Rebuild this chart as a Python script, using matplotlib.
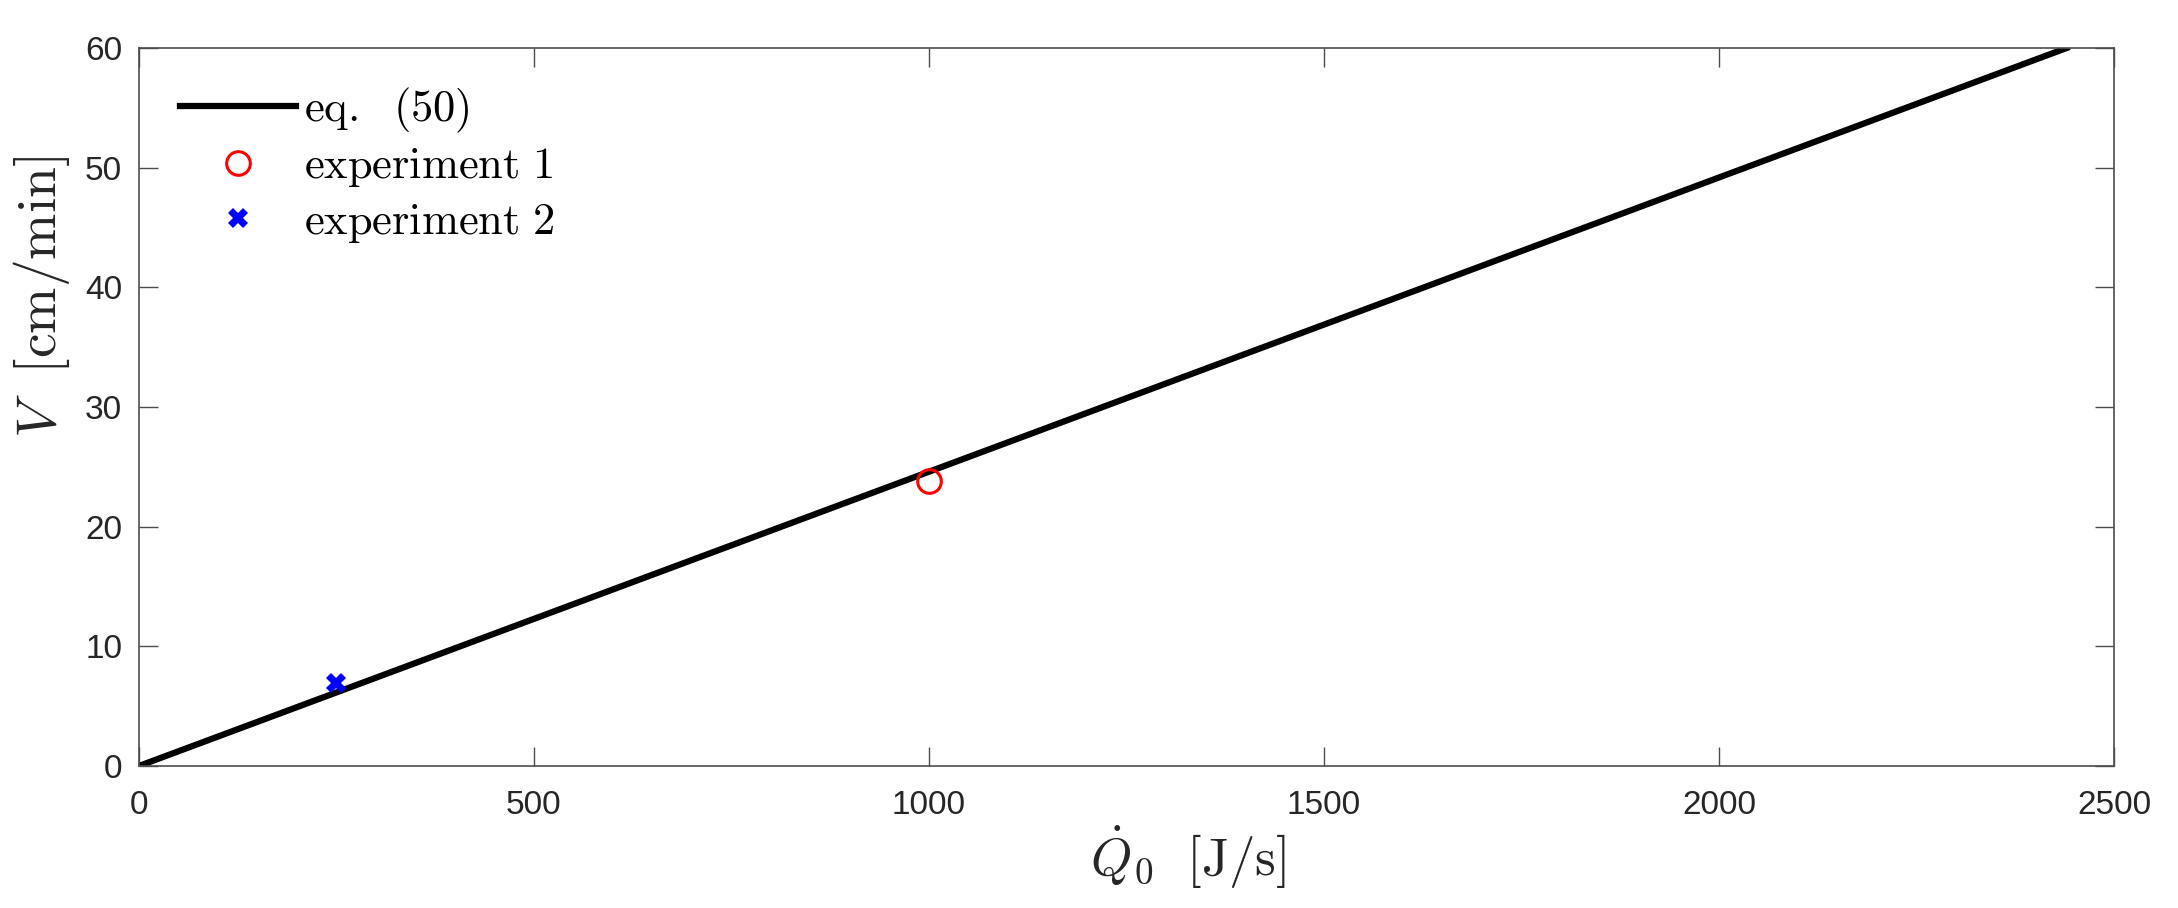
import matplotlib.pyplot as plt

plt.rcParams['mathtext.fontset'] = 'cm'
plt.rcParams['font.family'] = ['Liberation Sans', 'DejaVu Sans']

# eq. (50) line and the two measured points
q_line = [0, 2440]
v_line = [0, 60]
q_exp1 = [1000]
v_exp1 = [23.8]
q_exp2 = [250]
v_exp2 = [6.9]

xticks = [0, 500, 1000, 1500, 2000, 2500]
yticks = [0, 10, 20, 30, 40, 50, 60]

fig = plt.figure(figsize=(21.78, 9.08), dpi=100)
ax = fig.add_axes([0.0638, 0.1564, 0.9068, 0.7907])

ax.plot(q_line, v_line, color='black', linewidth=4.5, label=r'$\mathrm{eq.\ \ (50)}$')
ax.plot(q_exp1, v_exp1, linestyle='none', marker='o', markersize=17, markerfacecolor='none',
        markeredgecolor='red', markeredgewidth=2.2, label=r'$\mathrm{experiment\ 1}$')
ax.plot(q_exp2, v_exp2, linestyle='none', marker='X', markersize=14, color='blue',
        markeredgewidth=0, label=r'$\mathrm{experiment\ 2}$')

ax.set_xlim(0, 2500)
ax.set_ylim(0, 60)
ax.set_xticks(xticks)
ax.set_yticks(yticks)
ax.tick_params(direction='in', length=14, width=1, color='#4d4d4d', labelsize=24,
               labelcolor='#262626', top=True, right=True)
ax.tick_params(axis='x', pad=17)
ax.tick_params(axis='y', pad=12)
for s in ax.spines.values():
    s.set_color('#4d4d4d')
    s.set_linewidth(1.2)

ax.set_xlabel(r'$\dot{Q}_0\ \ [\mathrm{J/s}]$', fontsize=38, color='#262626')
ax.set_ylabel(r'$V\ \ [\mathrm{cm/min}]$', fontsize=40, color='#262626')
ax.xaxis.set_label_coords(0.531, -0.08)
ax.yaxis.set_label_coords(-0.034, 0.654)

ax.legend(loc='upper left', frameon=False, fontsize=32, handlelength=2.6, handletextpad=0.18,
          labelspacing=0.25, borderpad=0, borderaxespad=0, bbox_to_anchor=(0.0208, 0.947))

fig.savefig('out.png', dpi=100)
